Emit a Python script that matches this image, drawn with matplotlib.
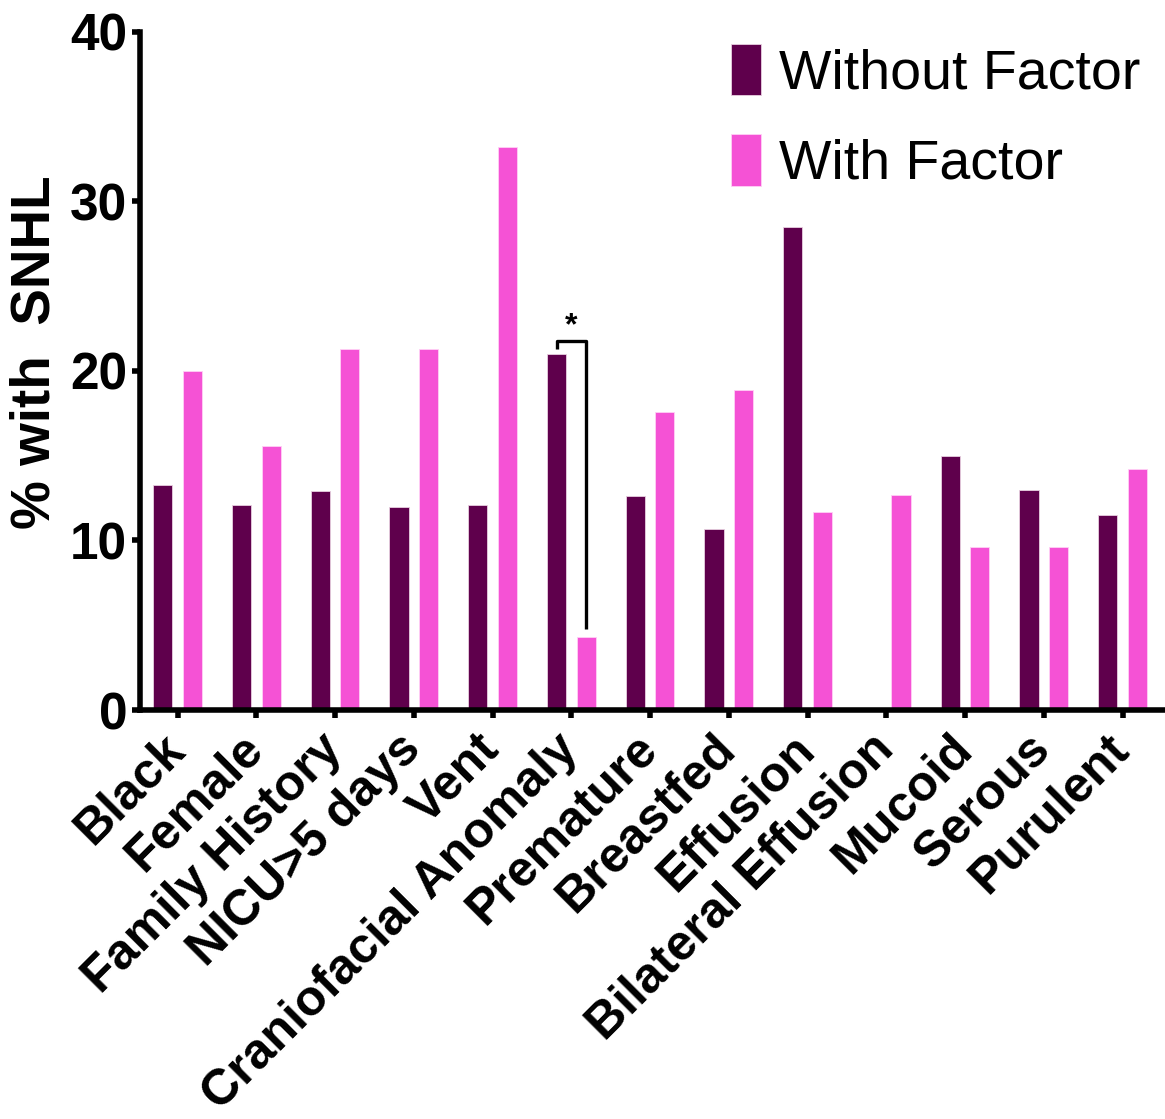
import matplotlib
matplotlib.use("Agg")
import matplotlib.pyplot as plt
import numpy as np
from matplotlib import font_manager

categories = ["Black", "Female", "Family History", "NICU>5 days", "Vent",
              "Craniofacial Anomaly", "Premature", "Breastfed", "Effusion",
              "Bilateral Effusion", "Mucoid", "Serous", "Purulent"]
without_factor = [13.3, 12.1, 12.9, 12.0, 12.1, 21.0, 12.6, 10.7, 28.5, 0.0, 15.0, 13.0, 11.5]
with_factor = [20.0, 15.6, 21.3, 21.3, 33.2, 4.3, 17.6, 18.9, 11.7, 12.7, 9.6, 9.6, 14.2]
yticks = [0, 10, 20, 30, 40]

DARK = "#5f004c"
PINK = "#f552d5"

names = {f.name for f in font_manager.fontManager.ttflist}
narrow = "Liberation Sans Narrow" if "Liberation Sans Narrow" in names else "Liberation Sans"
plt.rcParams["font.family"] = ["Liberation Sans", "DejaVu Sans"]

fig = plt.figure(figsize=(11.65, 11.19), dpi=100)
ax = fig.add_axes([0.120, 0.3655, 0.878, 0.606])

x = np.arange(len(categories))
w = 0.244
off = 0.188
ax.bar(x - off, without_factor, w, color=DARK, edgecolor="#e8d0e0", linewidth=0.6,
       label="Without Factor")
ax.bar(x + off, with_factor, w, color=PINK, edgecolor="#ffd0f5", linewidth=0.6,
       label="With Factor")

ax.set_xlim(-0.48, 12.51)
ax.set_ylim(0, 40)
ax.set_yticks(yticks)
ax.set_yticklabels([str(t) for t in yticks], fontfamily=narrow, fontweight="bold",
                   fontsize=37)
ax.set_xticks(x)
ax.set_xticklabels(categories, rotation=45, ha="right", va="center",
                   rotation_mode="anchor", fontweight="bold", fontsize=36)

for s in ["top", "right"]:
    ax.spines[s].set_visible(False)
for s in ["left", "bottom"]:
    ax.spines[s].set_linewidth(4)
ax.tick_params(axis="both", width=4, length=6, direction="out")
ax.tick_params(axis="y", pad=3)
ax.tick_params(axis="x", pad=17)

ax.set_ylabel("% with  SNHL", fontweight="bold", fontsize=39.5)
ax.yaxis.set_label_coords(-0.077, 0.527)

# significance bracket on Craniofacial Anomaly
i = categories.index("Craniofacial Anomaly")
ax.plot([i - off, i - off, i + off, i + off], [21.3, 21.76, 21.76, 4.8],
        color="black", linewidth=2.4, solid_capstyle="butt", clip_on=False)
ax.text(i, 21.75, "*", ha="center", va="bottom", fontsize=23, fontweight="bold")

leg = ax.legend(loc="upper right", bbox_to_anchor=(1.0, 1.015), frameon=False,
                fontsize=40, handlelength=0.54, handleheight=1.05,
                handletextpad=0.32, labelspacing=0.6, borderaxespad=0)

fig.savefig("out.png", dpi=100)
